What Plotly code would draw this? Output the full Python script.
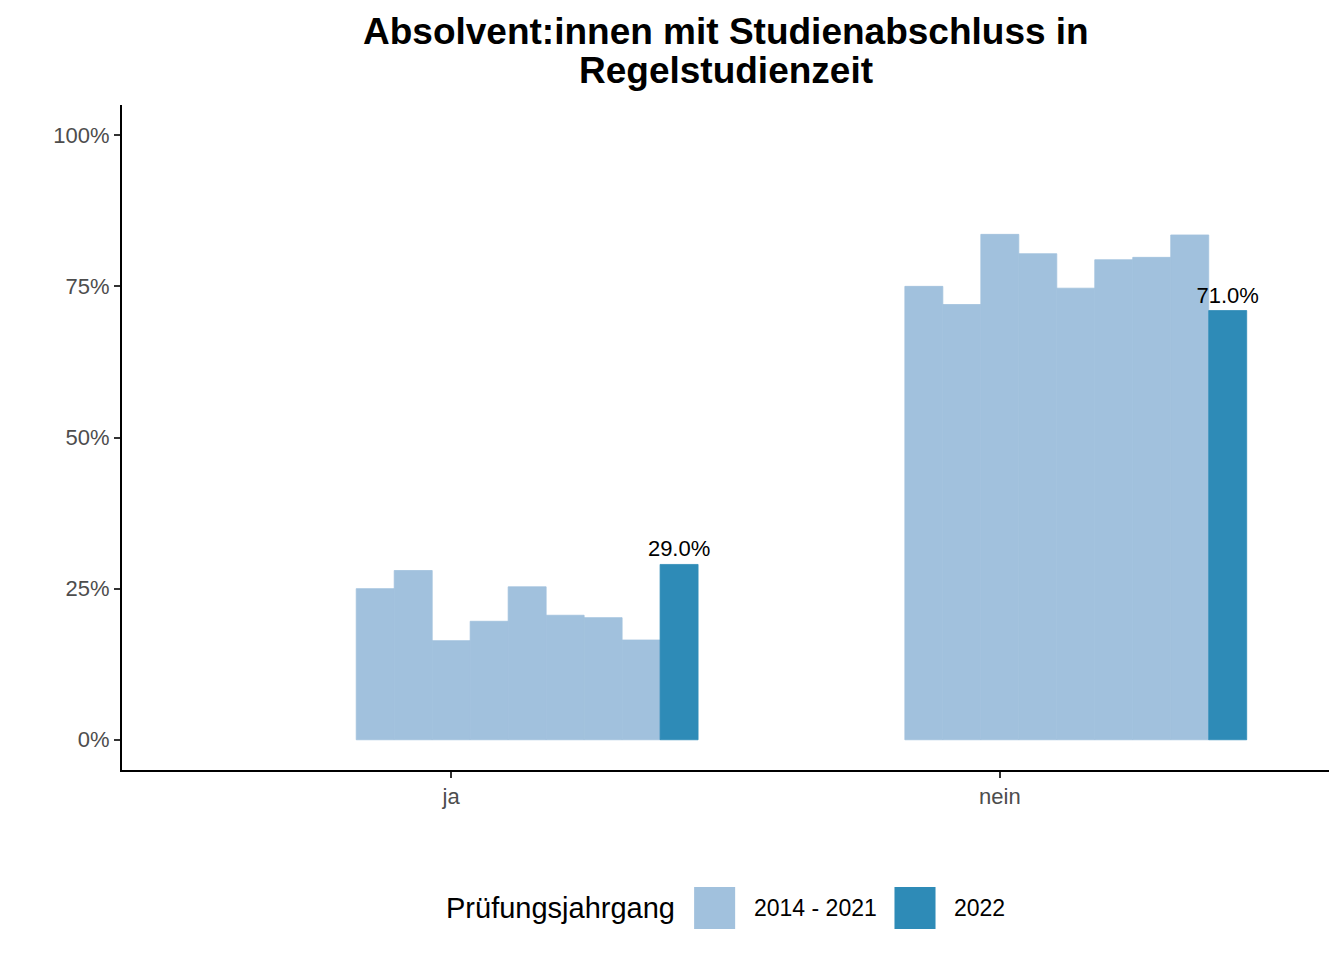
import plotly.graph_objects as go

# values
categories = ["ja", "nein"]
years = [2014, 2015, 2016, 2017, 2018, 2019, 2020, 2021, 2022]
share_ja = [0.250, 0.280, 0.164, 0.196, 0.253, 0.206, 0.202, 0.165, 0.290]
share_nein = [0.750, 0.720, 0.836, 0.804, 0.747, 0.794, 0.798, 0.835, 0.710]
legend_labels = ["2014 - 2021", "2022"]
title_lines = ["Absolvent:innen mit Studienabschluss in", "Regelstudienzeit"]

light = "#a1c1dd"
dark = "#2e8bb7"
font = "Liberation Sans"

# ggplot-style dodge: 13 slots (2010-2022) inside a 0.9 wide group
first_slot_year = 2010
n_slots = 13
group_width = 0.9
slot_w = group_width / n_slots

fig = go.Figure()
for i, year in enumerate(years):
    slot = year - first_slot_year
    offset = -group_width / 2 + (slot + 0.5) * slot_w
    is_current = year == years[-1]
    color = dark if is_current else light
    vals = [share_ja[i], share_nein[i]]
    fig.add_trace(go.Bar(
        x=[k + 1 + offset for k in range(len(categories))],
        y=vals,
        width=slot_w,
        marker=dict(color=color, line=dict(width=0.8, color=color)),
        text=[f"{v * 100:.1f}%" for v in vals] if is_current else None,
        textposition="outside" if is_current else "none",
        constraintext="none",
        textfont=dict(family=font, size=22, color="black"),
        cliponaxis=False,
        showlegend=False,
        name=str(year),
    ))

# title as two annotations (tighter line spacing, like ggplot)
for text, y in zip(title_lines, [1.111, 1.0526]):
    fig.add_annotation(x=0.5, y=y, xref="paper", yref="paper", text=f"<b>{text}</b>",
                       showarrow=False, xanchor="center", yanchor="middle",
                       font=dict(family=font, size=37, color="black"))

# legend drawn by hand to get the large ggplot keys
key_y0, key_y1 = -0.176, -0.239
keys = [(light, 0.474, legend_labels[0]), (dark, 0.640, legend_labels[1])]
for color, x0, label in keys:
    fig.add_shape(type="rect", xref="paper", yref="paper",
                  x0=x0, x1=x0 + 0.034, y0=key_y1, y1=key_y0,
                  fillcolor=color, line=dict(width=0))
    fig.add_annotation(x=x0 + 0.048, y=(key_y0 + key_y1) / 2, xref="paper", yref="paper",
                       text=label, showarrow=False, xanchor="left", yanchor="middle",
                       font=dict(family=font, size=23, color="black"))
fig.add_annotation(x=0.460, y=(key_y0 + key_y1) / 2, xref="paper", yref="paper",
                   text="Prüfungsjahrgang", showarrow=False, xanchor="right", yanchor="middle",
                   font=dict(family=font, size=29, color="black"))

# page body has an 8px margin, so the figure is sized/offset for that
fig.update_layout(
    width=1328, height=952,
    barmode="overlay",
    plot_bgcolor="white", paper_bgcolor="white",
    margin=dict(l=114, r=7, t=97, b=190),
    font=dict(family=font),
)
fig.update_xaxes(
    range=[0.4, 2.6],
    tickvals=[1, 2], ticktext=categories,
    showline=True, linecolor="black", linewidth=2,
    ticks="outside", ticklen=6, tickwidth=2, tickcolor="#333333",
    tickfont=dict(family=font, size=22, color="#4d4d4d"),
    showgrid=False, zeroline=False,
)
fig.update_yaxes(
    range=[-0.05, 1.05],
    tickvals=[0, 0.25, 0.5, 0.75, 1.0], tickformat=".0%",
    showline=True, linecolor="black", linewidth=2,
    ticks="outside", ticklen=6, tickwidth=2, tickcolor="#333333",
    tickfont=dict(family=font, size=22, color="#4d4d4d"),
    showgrid=False, zeroline=False,
)

fig.write_html("out.html")
